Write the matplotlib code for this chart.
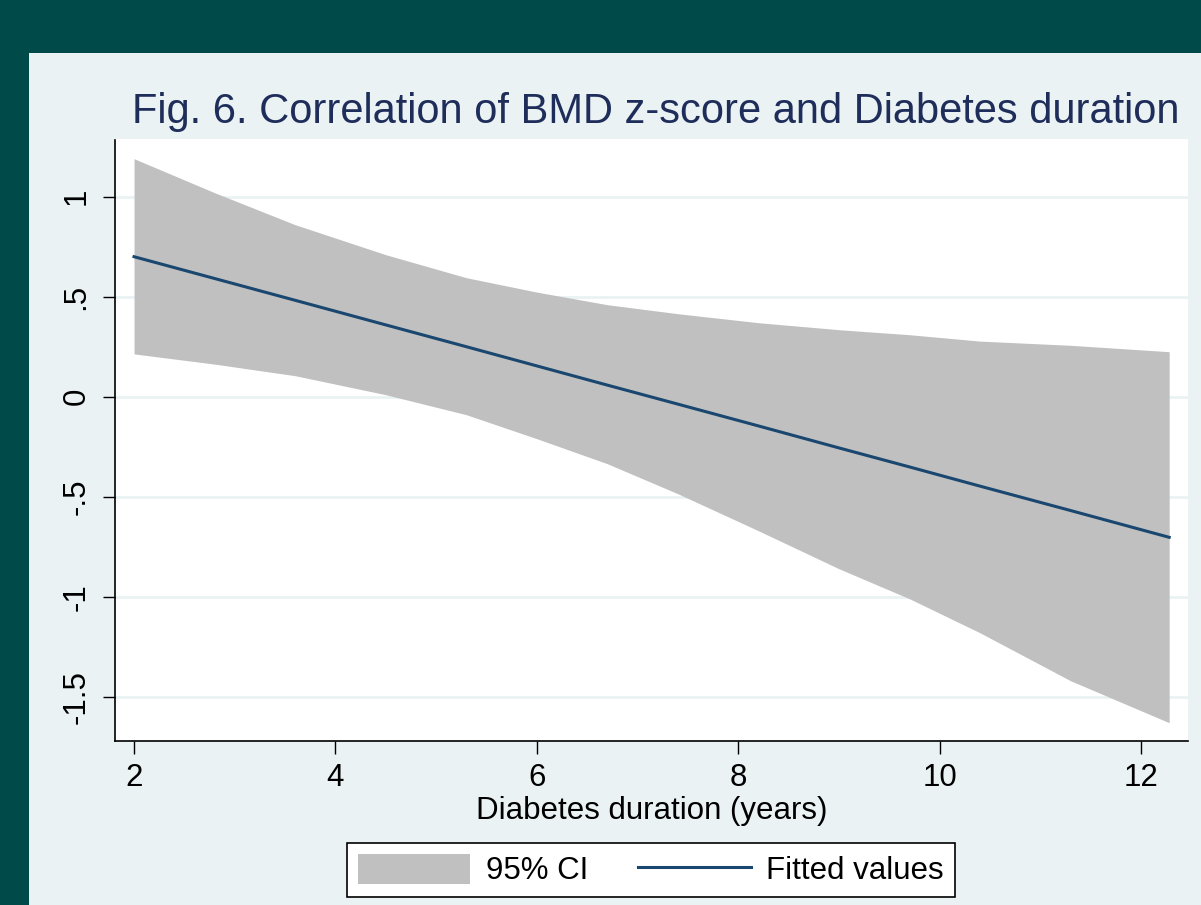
import numpy as np
import matplotlib.pyplot as plt
from matplotlib.patches import Rectangle, Patch
from matplotlib.lines import Line2D

plt.rcParams['font.family'] = ['Liberation Sans', 'DejaVu Sans']

# values
duration = [2.0, 2.8, 3.6, 4.5, 5.3, 6.0, 6.7, 7.4, 8.2, 9.0, 9.7, 10.4, 11.3, 12.28]
ci_upper = [1.19, 1.02, 0.86, 0.71, 0.595, 0.523, 0.46, 0.415, 0.37, 0.335, 0.31, 0.278, 0.257, 0.225]
ci_lower = [0.214, 0.163, 0.105, 0.01, -0.09, -0.21, -0.335, -0.485, -0.67, -0.86, -1.01, -1.18, -1.42, -1.63]
fitted = [0.70, 0.591, 0.482, 0.359, 0.250, 0.154, 0.058, -0.037, -0.146, -0.256, -0.351, -0.447, -0.569, -0.703]

x_ticks = [2, 4, 6, 8, 10, 12]
y_ticks = [1, 0.5, 0, -0.5, -1, -1.5]
y_labels = ['1', '.5', '0', '-.5', '-1', '-1.5']

teal = '#004a4a'
panel = '#eaf2f3'
navy = '#1a476f'
W, H = 1201, 905
fs = 22.5

fig = plt.figure(figsize=(W / 100, H / 100), dpi=100, facecolor=teal)
fig.patches.append(Rectangle((29 / W, 0), 1 - 29 / W, 1 - 53 / H, transform=fig.transFigure,
                             facecolor=panel, edgecolor='none', zorder=-10))

ax = fig.add_axes([115 / W, 1 - 741 / H, (1188 - 115) / W, (741 - 139.5) / H])
ax.set_zorder(1)
ax.set_facecolor('white')
ax.fill_between(duration, ci_lower, ci_upper, color='#c0c0c0', lw=0, zorder=2)
ax.plot(duration, fitted, color=navy, lw=2.2, zorder=3)

ax.set_xlim(1.811, 12.467)
ax.set_ylim(-1.7215, 1.286)
ax.set_xticks(x_ticks)
ax.set_yticks(y_ticks)
ax.set_yticklabels(y_labels, rotation=90, va='center')
ax.tick_params(axis='both', labelsize=fs, length=9, width=1, color='black', pad=7)
ax.tick_params(axis='y', pad=8)
ax.grid(axis='y', color=panel, lw=2)
ax.set_axisbelow(True)
for s in ['top', 'right']:
    ax.spines[s].set_visible(False)
for s in ['left', 'bottom']:
    ax.spines[s].set_linewidth(1.2)
ax.set_xlabel('Diabetes duration (years)', fontsize=fs, labelpad=2)

fig.text(656 / W, 1 - 112 / H, 'Fig. 6. Correlation of BMD z-score and Diabetes duration',
         ha='center', va='center', fontsize=30, color='#1e2d5a')

handles = [Patch(facecolor='#c0c0c0', edgecolor='none'),
           Line2D([0], [0], color=navy, lw=2.2)]
leg = fig.legend(handles, ['95% CI', 'Fitted values'], ncol=2, fontsize=fs,
                 loc='center', bbox_to_anchor=(651 / W, 1 - 870 / H),
                 frameon=True, fancybox=False, edgecolor='black', facecolor='white',
                 framealpha=1, handlelength=3.6, handleheight=1.1, columnspacing=1.6,
                 handletextpad=0.5, borderpad=0.35, borderaxespad=0)
leg.get_frame().set_linewidth(1.2)

fig.savefig('out.png', dpi=100, facecolor=teal)
